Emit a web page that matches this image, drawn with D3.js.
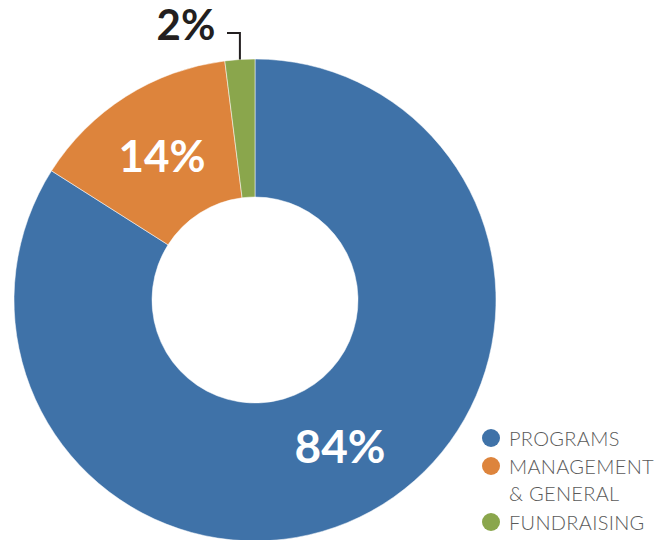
<!DOCTYPE html>
<html><head><meta charset="utf-8">
<script src="https://cdn.jsdelivr.net/npm/d3@7"></script>
<style>body{margin:0;background:#fff}svg{display:block}</style>
</head><body>
<svg id="c" width="665" height="540"></svg>
<script>
const categories = ["Programs", "Management & General", "Fundraising"];
const values = [84, 14, 2];
const labels = ["84%", "14%", "2%"];
const legendLines = [["PROGRAMS"], ["MANAGEMENT", "& GENERAL"], ["FUNDRAISING"]];
const colors = ["#3f72a8", "#dd843c", "#8aa64c"];

const svg = d3.select("#c");
const cx = 255, cy = 300, R = 241, r = 103;
const g = svg.append("g").attr("transform", `translate(${cx},${cy})`);
const pie = d3.pie().sort(null).value(d => d)(values);
const arc = d3.arc().innerRadius(r).outerRadius(R);
g.selectAll("path").data(pie).join("path")
  .attr("d", arc).attr("fill", (d, i) => colors[i])
  .attr("stroke", "rgba(255,255,255,0.5)").attr("stroke-width", 1);

const font = "Lato, 'Open Sans', sans-serif";
// inside labels
const labelPos = [[340, 463, 46], [162, 172, 44]];
labelPos.forEach((p, i) => {
  svg.append("text").attr("x", p[0]).attr("y", p[1]).attr("text-anchor", "middle")
    .attr("font-family", font).attr("font-weight", 700).attr("font-size", p[2])
    .attr("fill", "#fff").text(labels[i]);
});
// 2% outside label with leader
const a2 = (pie[2].startAngle + pie[2].endAngle) / 2;
const lx = cx + Math.sin(a2) * R, ly = cy - Math.cos(a2) * R;
svg.append("path").attr("d", `M227,33H${lx.toFixed(1)}V${ly.toFixed(1)}`)
  .attr("fill", "none").attr("stroke", "#231f20").attr("stroke-width", 2);
svg.append("text").attr("x", 186).attr("y", 40).attr("text-anchor", "middle")
  .attr("font-family", font).attr("font-weight", 700).attr("font-size", 42)
  .attr("fill", "#231f20").text(labels[2]);

// legend
const legY = [438, 466, 522];
const lg = svg.append("g");
legendLines.forEach((lines, i) => {
  lg.append("circle").attr("cx", 491).attr("cy", legY[i]).attr("r", 9).attr("fill", colors[i]);
  lines.forEach((t, j) => {
    lg.append("text").attr("x", 509).attr("y", legY[i] + 8 + j * 27)
      .attr("font-family", font).attr("font-weight", 300).attr("font-size", 20)
      .attr("letter-spacing", 0.3)
      .attr("fill", "#5a5a5a").text(t);
  });
});
</script>
</body></html>
